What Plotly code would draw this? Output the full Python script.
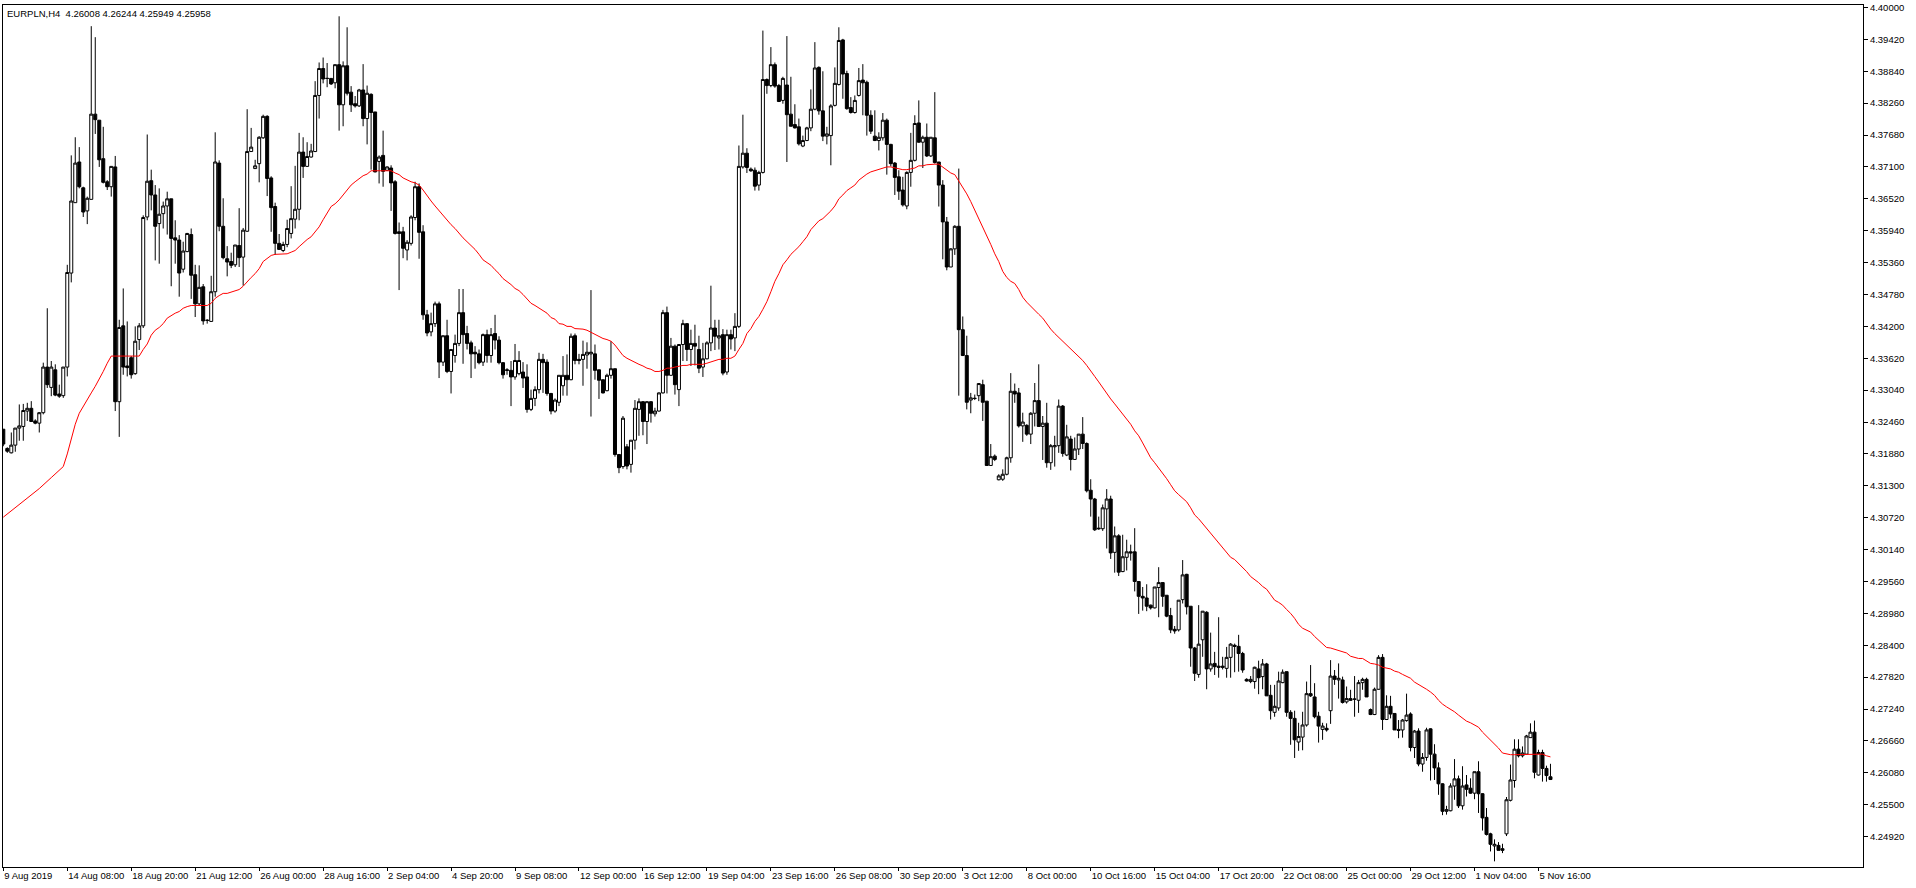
import plotly.graph_objects as go

# ---------------- data (EURPLN, H4) ----------------
open_ = [
    4.3233, 4.3198, 4.3190, 4.3204, 4.3235, 4.3238, 4.3266, 4.3271, 4.3248, 4.3244,
    4.3263, 4.3346, 4.3309, 4.3341, 4.3297, 4.3294, 4.3346, 4.3517, 4.3645, 4.3719,
    4.3672, 4.3630, 4.3651, 4.3806, 4.3795, 4.3725, 4.3683, 4.3674, 4.3710, 4.3283,
    4.3421, 4.3348, 4.3363, 4.3334, 4.3396, 4.3421, 4.3619, 4.3685, 4.3659, 4.3607,
    4.3625, 4.3639, 4.3652, 4.3581, 4.3577, 4.3524, 4.3556, 4.3587, 4.3514, 4.3461,
    4.3492, 4.3431, 4.3429, 4.3483, 4.3717, 4.3602, 4.3543, 4.3538, 4.3532, 4.3567,
    4.3546, 4.3593, 4.3738, 4.3707, 4.3716, 4.3763, 4.3802, 4.3690, 4.3638, 4.3571,
    4.3558, 4.3569, 4.3589, 4.3615, 4.3633, 4.3737, 4.3711, 4.3728, 4.3738, 4.3840,
    4.3889, 4.3871, 4.3871, 4.3863, 4.3896, 4.3823, 4.3894, 4.3846, 4.3825, 4.3821,
    4.3850, 4.3798, 4.3842, 4.3810, 4.3720, 4.3731, 4.3704, 4.3708, 4.3683, 4.3592,
    4.3592, 4.3559, 4.3571, 4.3618, 4.3674, 4.3592, 4.3441, 4.3410, 4.3425, 4.3461,
    4.3355, 4.3403, 4.3338, 4.3367, 4.3389, 4.3445, 4.3407, 4.3390, 4.3373, 4.3370,
    4.3355, 4.3405, 4.3367, 4.3407, 4.3395, 4.3354, 4.3341, 4.3340, 4.3328, 4.3334,
    4.3337, 4.3328, 4.3269, 4.3289, 4.3305, 4.3360, 4.3355, 4.3298, 4.3266, 4.3282,
    4.3312, 4.3331, 4.3323, 4.3403, 4.3360, 4.3360, 4.3368, 4.3370, 4.3370, 4.3341,
    4.3323, 4.3303, 4.3331, 4.3343, 4.3187, 4.3165, 4.3201, 4.3169, 4.3213, 4.3269,
    4.3283, 4.3247, 4.3283, 4.3261, 4.3266, 4.3299, 4.3445, 4.3331, 4.3384, 4.3305,
    4.3387, 4.3425, 4.3378, 4.3389, 4.3378, 4.3346, 4.3361, 4.3390, 4.3417, 4.3399,
    4.3405, 4.3337, 4.3405, 4.3399, 4.3420, 4.3710, 4.3735, 4.3706, 4.3704, 4.3677,
    4.3700, 4.3869, 4.3858, 4.3896, 4.3858, 4.3831, 4.3859, 4.3806, 4.3787, 4.3783,
    4.3748, 4.3758, 4.3781, 4.3815, 4.3891, 4.3812, 4.3766, 4.3767, 4.3822, 4.3860,
    4.3941, 4.3880, 4.3818, 4.3809, 4.3840, 4.3868, 4.3864, 4.3804, 4.3766, 4.3758,
    4.3763, 4.3795, 4.3751, 4.3717, 4.3692, 4.3668, 4.3639, 4.3700, 4.3722, 4.3790,
    4.3755, 4.3764, 4.3730, 4.3763, 4.3719, 4.3677, 4.3610, 4.3528, 4.3561, 4.3602,
    4.3414, 4.3367, 4.3286, 4.3289, 4.3294, 4.3314, 4.3284, 4.3167, 4.3184, 4.3141,
    4.3142, 4.3151, 4.3181, 4.3302, 4.3299, 4.3239, 4.3240, 4.3224, 4.3262, 4.3285,
    4.3238, 4.3244, 4.3172, 4.3201, 4.3203, 4.3275, 4.3186, 4.3215, 4.3178, 4.3197,
    4.3224, 4.3207, 4.3122, 4.3106, 4.3053, 4.3052, 4.3088, 4.3106, 4.3009, 4.3039,
    4.2974, 4.3000, 4.3010, 4.3010, 4.2956, 4.2929, 4.2926, 4.2913, 4.2908, 4.2945,
    4.2954, 4.2931, 4.2894, 4.2869, 4.2868, 4.2923, 4.2969, 4.2911, 4.2835, 4.2787,
    4.2850, 4.2900, 4.2797, 4.2807, 4.2802, 4.2802, 4.2798, 4.2818, 4.2840, 4.2838,
    4.2825, 4.2778, 4.2774, 4.2774, 4.2797, 4.2783, 4.2806, 4.2749, 4.2718, 4.2726,
    4.2772, 4.2792, 4.2718, 4.2707, 4.2664, 4.2673, 4.2695, 4.2752, 4.2746, 4.2711,
    4.2687, 4.2689, 4.2721, 4.2784, 4.2777, 4.2777, 4.2737, 4.2743, 4.2742, 4.2740,
    4.2772, 4.2778, 4.2723, 4.2714, 4.2760, 4.2818, 4.2705, 4.2729, 4.2716, 4.2687,
    4.2686, 4.2703, 4.2715, 4.2654, 4.2684, 4.2624, 4.2636, 4.2688, 4.2642, 4.2617,
    4.2588, 4.2538, 4.2539, 4.2584, 4.2597, 4.2548, 4.2586, 4.2580, 4.2571, 4.2610,
    4.2570, 4.2527, 4.2497, 4.2475, 4.2476, 4.2470, 4.2497, 4.2558, 4.2594, 4.2651,
    4.2639, 4.2642, 4.2672, 4.2682, 4.2604, 4.2645, 4.2616, 4.26008,
]

high = [
    4.3233, 4.3200, 4.3227, 4.3235, 4.3278, 4.3279, 4.3281, 4.3284, 4.3251, 4.3264,
    4.3354, 4.3453, 4.3357, 4.3351, 4.3314, 4.3346, 4.3532, 4.3731, 4.3764, 4.3746,
    4.3674, 4.3656, 4.3966, 4.3946, 4.3795, 4.3783, 4.3686, 4.3711, 4.3730, 4.3432,
    4.3489, 4.3429, 4.3366, 4.3420, 4.3426, 4.3622, 4.3769, 4.3705, 4.3677, 4.3671,
    4.3647, 4.3665, 4.3652, 4.3613, 4.3586, 4.3574, 4.3590, 4.3598, 4.3532, 4.3531,
    4.3497, 4.3433, 4.3512, 4.3773, 4.3722, 4.3653, 4.3566, 4.3554, 4.3568, 4.3635,
    4.3599, 4.3815, 4.3781, 4.3723, 4.3766, 4.3805, 4.3804, 4.3693, 4.3645, 4.3588,
    4.3574, 4.3614, 4.3675, 4.3712, 4.3772, 4.3764, 4.3755, 4.3752, 4.3866, 4.3900,
    4.3909, 4.3899, 4.3871, 4.3896, 4.3984, 4.3902, 4.3964, 4.3857, 4.3839, 4.3852,
    4.3897, 4.3858, 4.3844, 4.3810, 4.3731, 4.3776, 4.3711, 4.3713, 4.3686, 4.3609,
    4.3601, 4.3577, 4.3622, 4.3683, 4.3680, 4.3604, 4.3450, 4.3445, 4.3465, 4.3465,
    4.3403, 4.3432, 4.3378, 4.3405, 4.3488, 4.3488, 4.3421, 4.3394, 4.3384, 4.3378,
    4.3407, 4.3414, 4.3417, 4.3441, 4.3402, 4.3355, 4.3344, 4.3357, 4.3388, 4.3375,
    4.3355, 4.3351, 4.3305, 4.3311, 4.3372, 4.3370, 4.3360, 4.3299, 4.3289, 4.3331,
    4.3366, 4.3369, 4.3407, 4.3407, 4.3370, 4.3394, 4.3391, 4.3486, 4.3387, 4.3341,
    4.3323, 4.3334, 4.3393, 4.3343, 4.3187, 4.3257, 4.3206, 4.3213, 4.3286, 4.3289,
    4.3284, 4.3284, 4.3284, 4.3272, 4.3300, 4.3450, 4.3456, 4.3399, 4.3387, 4.3387,
    4.3432, 4.3426, 4.3414, 4.3423, 4.3403, 4.3390, 4.3393, 4.3494, 4.3432, 4.3432,
    4.3415, 4.3414, 4.3414, 4.3444, 4.3749, 4.3805, 4.3744, 4.3709, 4.3709, 4.3703,
    4.3958, 4.3871, 4.3928, 4.3900, 4.3861, 4.3874, 4.3948, 4.3874, 4.3824, 4.3798,
    4.3767, 4.3783, 4.3851, 4.3937, 4.3893, 4.3884, 4.3783, 4.3824, 4.3891, 4.3964,
    4.3943, 4.3885, 4.3837, 4.3840, 4.3890, 4.3897, 4.3867, 4.3813, 4.3813, 4.3773,
    4.3808, 4.3798, 4.3752, 4.3719, 4.3704, 4.3692, 4.3702, 4.3772, 4.3804, 4.3831,
    4.3767, 4.3789, 4.3764, 4.3846, 4.3719, 4.3686, 4.3619, 4.3562, 4.3604, 4.3707,
    4.3438, 4.3403, 4.3299, 4.3296, 4.3317, 4.3323, 4.3284, 4.3206, 4.3187, 4.3151,
    4.3160, 4.3183, 4.3335, 4.3316, 4.3308, 4.3263, 4.3242, 4.3264, 4.3317, 4.3351,
    4.3257, 4.3281, 4.3206, 4.3221, 4.3287, 4.3277, 4.3241, 4.3221, 4.3218, 4.3224,
    4.3255, 4.3209, 4.3142, 4.3108, 4.3074, 4.3096, 4.3124, 4.3112, 4.3056, 4.3042,
    4.3041, 4.3032, 4.3023, 4.3053, 4.2956, 4.2946, 4.2951, 4.2914, 4.2946, 4.2982,
    4.2954, 4.2931, 4.2908, 4.2875, 4.2922, 4.2995, 4.2970, 4.2911, 4.2837, 4.2913,
    4.2902, 4.2902, 4.2863, 4.2828, 4.2891, 4.2819, 4.2837, 4.2844, 4.2843, 4.2859,
    4.2828, 4.2780, 4.2784, 4.2801, 4.2812, 4.2815, 4.2808, 4.2768, 4.2768, 4.2792,
    4.2796, 4.2792, 4.2722, 4.2721, 4.2699, 4.2719, 4.2774, 4.2804, 4.2771, 4.2719,
    4.2699, 4.2698, 4.2813, 4.2795, 4.2807, 4.2783, 4.2765, 4.2759, 4.2784, 4.2777,
    4.2781, 4.2781, 4.2725, 4.2763, 4.2822, 4.2824, 4.2749, 4.2748, 4.2716, 4.2704,
    4.2706, 4.2752, 4.2718, 4.2686, 4.2689, 4.2644, 4.2690, 4.2689, 4.2660, 4.2627,
    4.2589, 4.2548, 4.2589, 4.2633, 4.2603, 4.2620, 4.2604, 4.2598, 4.2610, 4.2629,
    4.2571, 4.2544, 4.2499, 4.2487, 4.2482, 4.2479, 4.2564, 4.2623, 4.2669, 4.2669,
    4.2656, 4.2677, 4.2698, 4.2703, 4.2650, 4.2650, 4.2621, 4.26244,
]

low = [
    4.3202, 4.3190, 4.3189, 4.3192, 4.3212, 4.3212, 4.3248, 4.3247, 4.3242, 4.3227,
    4.3260, 4.3308, 4.3293, 4.3293, 4.3290, 4.3290, 4.3329, 4.3500, 4.3645, 4.3671,
    4.3619, 4.3606, 4.3651, 4.3770, 4.3710, 4.3680, 4.3668, 4.3656, 4.3266, 4.3219,
    4.3332, 4.3329, 4.3325, 4.3332, 4.3377, 4.3417, 4.3613, 4.3631, 4.3540, 4.3534,
    4.3598, 4.3587, 4.3493, 4.3534, 4.3474, 4.3518, 4.3555, 4.3470, 4.3437, 4.3459,
    4.3423, 4.3425, 4.3429, 4.3474, 4.3593, 4.3542, 4.3511, 4.3526, 4.3528, 4.3528,
    4.3494, 4.3592, 4.3738, 4.3707, 4.3682, 4.3761, 4.3657, 4.3592, 4.3550, 4.3559,
    4.3555, 4.3564, 4.3580, 4.3598, 4.3613, 4.3690, 4.3710, 4.3727, 4.3737, 4.3798,
    4.3862, 4.3855, 4.3859, 4.3853, 4.3776, 4.3784, 4.3840, 4.3810, 4.3818, 4.3819,
    4.3784, 4.3751, 4.3705, 4.3700, 4.3680, 4.3674, 4.3703, 4.3630, 4.3587, 4.3486,
    4.3544, 4.3540, 4.3567, 4.3613, 4.3543, 4.3432, 4.3402, 4.3402, 4.3419, 4.3326,
    4.3348, 4.3335, 4.3298, 4.3354, 4.3384, 4.3352, 4.3378, 4.3326, 4.3343, 4.3351,
    4.3348, 4.3354, 4.3354, 4.3378, 4.3351, 4.3325, 4.3332, 4.3275, 4.3323, 4.3331,
    4.3308, 4.3263, 4.3266, 4.3275, 4.3298, 4.3299, 4.3294, 4.3260, 4.3263, 4.3275,
    4.3294, 4.3294, 4.3322, 4.3351, 4.3351, 4.3312, 4.3343, 4.3256, 4.3323, 4.3288,
    4.3298, 4.3302, 4.3325, 4.3183, 4.3153, 4.3161, 4.3160, 4.3154, 4.3196, 4.3221,
    4.3222, 4.3206, 4.3245, 4.3256, 4.3265, 4.3298, 4.3298, 4.3331, 4.3296, 4.3275,
    4.3357, 4.3357, 4.3348, 4.3349, 4.3335, 4.3328, 4.3360, 4.3375, 4.3377, 4.3378,
    4.3331, 4.3332, 4.3378, 4.3375, 4.3417, 4.3707, 4.3699, 4.3701, 4.3667, 4.3667,
    4.3698, 4.3843, 4.3855, 4.3854, 4.3828, 4.3825, 4.3719, 4.3784, 4.3780, 4.3749,
    4.3746, 4.3757, 4.3775, 4.3813, 4.3805, 4.3757, 4.3751, 4.3713, 4.3820, 4.3858,
    4.3834, 4.3814, 4.3807, 4.3807, 4.3838, 4.3804, 4.3767, 4.3770, 4.3757, 4.3740,
    4.3758, 4.3696, 4.3711, 4.3659, 4.3650, 4.3638, 4.3633, 4.3674, 4.3720, 4.3754,
    4.3708, 4.3728, 4.3728, 4.3716, 4.3638, 4.3542, 4.3522, 4.3528, 4.3550, 4.3294,
    4.3366, 4.3269, 4.3262, 4.3286, 4.3284, 4.3248, 4.3167, 4.3166, 4.3175, 4.3140,
    4.3139, 4.3149, 4.3172, 4.3281, 4.3236, 4.3210, 4.3221, 4.3206, 4.3238, 4.3238,
    4.3177, 4.3163, 4.3159, 4.3165, 4.3190, 4.3183, 4.3184, 4.3158, 4.3177, 4.3186,
    4.3197, 4.3118, 4.3074, 4.3048, 4.3050, 4.3048, 4.3016, 4.2997, 4.2972, 4.2966,
    4.2973, 4.2976, 4.2994, 4.2938, 4.2897, 4.2903, 4.2902, 4.2905, 4.2907, 4.2891,
    4.2910, 4.2891, 4.2862, 4.2861, 4.2865, 4.2916, 4.2896, 4.2801, 4.2775, 4.2781,
    4.2819, 4.2760, 4.2792, 4.2786, 4.2781, 4.2796, 4.2781, 4.2781, 4.2791, 4.2792,
    4.2790, 4.2774, 4.2771, 4.2761, 4.2751, 4.2760, 4.2748, 4.2705, 4.2710, 4.2721,
    4.2771, 4.2710, 4.2659, 4.2635, 4.2648, 4.2649, 4.2692, 4.2746, 4.2707, 4.2663,
    4.2668, 4.2683, 4.2697, 4.2768, 4.2743, 4.2734, 4.2734, 4.2739, 4.2710, 4.2717,
    4.2759, 4.2746, 4.2713, 4.2713, 4.2759, 4.2686, 4.2704, 4.2707, 4.2686, 4.2671,
    4.2672, 4.2701, 4.2647, 4.2635, 4.2620, 4.2610, 4.2630, 4.2594, 4.2595, 4.2568,
    4.2531, 4.2532, 4.2538, 4.2559, 4.2544, 4.2541, 4.2565, 4.2570, 4.2560, 4.2535,
    4.2503, 4.2494, 4.2465, 4.2447, 4.2467, 4.2462, 4.2493, 4.2556, 4.2581, 4.2636,
    4.2636, 4.2641, 4.2672, 4.2598, 4.2603, 4.2592, 4.2592, 4.25949,
]

close = [
    4.3206, 4.3193, 4.3204, 4.3235, 4.3239, 4.3267, 4.3271, 4.3247, 4.3244, 4.3263,
    4.3346, 4.3314, 4.3346, 4.3295, 4.3293, 4.3346, 4.3518, 4.3648, 4.3717, 4.3674,
    4.3628, 4.3653, 4.3806, 4.3796, 4.3723, 4.3682, 4.3674, 4.3711, 4.3283, 4.3418,
    4.3346, 4.3345, 4.3332, 4.3393, 4.3421, 4.3618, 4.3684, 4.3659, 4.3602, 4.3624,
    4.3639, 4.3652, 4.3580, 4.3577, 4.3517, 4.3557, 4.3589, 4.3513, 4.3461, 4.3491,
    4.3430, 4.3431, 4.3483, 4.3719, 4.3602, 4.3545, 4.3537, 4.3531, 4.3568, 4.3545,
    4.3595, 4.3738, 4.3746, 4.3712, 4.3764, 4.3802, 4.3689, 4.3636, 4.3571, 4.3560,
    4.3569, 4.3598, 4.3616, 4.3633, 4.3737, 4.3711, 4.3729, 4.3739, 4.3840, 4.3889,
    4.3870, 4.3871, 4.3861, 4.3896, 4.3823, 4.3894, 4.3844, 4.3823, 4.3821, 4.3850,
    4.3798, 4.3844, 4.3809, 4.3701, 4.3728, 4.3702, 4.3710, 4.3681, 4.3589, 4.3589,
    4.3562, 4.3573, 4.3619, 4.3674, 4.3591, 4.3441, 4.3408, 4.3425, 4.3461, 4.3355,
    4.3403, 4.3338, 4.3378, 4.3389, 4.3445, 4.3405, 4.3389, 4.3370, 4.3370, 4.3354,
    4.3405, 4.3367, 4.3405, 4.3395, 4.3354, 4.3332, 4.3340, 4.3328, 4.3358, 4.3358,
    4.3326, 4.3269, 4.3289, 4.3305, 4.3360, 4.3354, 4.3298, 4.3266, 4.3286, 4.3331,
    4.3331, 4.3323, 4.3402, 4.3358, 4.3358, 4.3369, 4.3373, 4.3373, 4.3340, 4.3322,
    4.3299, 4.3331, 4.3343, 4.3187, 4.3163, 4.3253, 4.3166, 4.3213, 4.3271, 4.3283,
    4.3247, 4.3283, 4.3262, 4.3266, 4.3299, 4.3445, 4.3331, 4.3384, 4.3314, 4.3387,
    4.3425, 4.3378, 4.3389, 4.3384, 4.3344, 4.3361, 4.3390, 4.3417, 4.3402, 4.3403,
    4.3335, 4.3405, 4.3397, 4.3420, 4.3711, 4.3735, 4.3709, 4.3703, 4.3675, 4.3700,
    4.3869, 4.3858, 4.3896, 4.3857, 4.3829, 4.3871, 4.3805, 4.3784, 4.3781, 4.3752,
    4.3758, 4.3781, 4.3815, 4.3890, 4.3812, 4.3766, 4.3770, 4.3821, 4.3862, 4.3940,
    4.3879, 4.3816, 4.3809, 4.3831, 4.3867, 4.3863, 4.3804, 4.3775, 4.3758, 4.3764,
    4.3795, 4.3751, 4.3716, 4.3691, 4.3666, 4.3641, 4.3700, 4.3722, 4.3789, 4.3755,
    4.3764, 4.3730, 4.3764, 4.3718, 4.3677, 4.3610, 4.3528, 4.3561, 4.3602, 4.3414,
    4.3367, 4.3282, 4.3290, 4.3289, 4.3316, 4.3282, 4.3167, 4.3183, 4.3178, 4.3148,
    4.3151, 4.3181, 4.3302, 4.3297, 4.3239, 4.3246, 4.3224, 4.3262, 4.3285, 4.3238,
    4.3244, 4.3172, 4.3203, 4.3203, 4.3275, 4.3189, 4.3219, 4.3178, 4.3197, 4.3224,
    4.3207, 4.3121, 4.3106, 4.3050, 4.3052, 4.3090, 4.3106, 4.3008, 4.3039, 4.2973,
    4.3001, 4.3010, 4.3008, 4.2956, 4.2929, 4.2926, 4.2911, 4.2908, 4.2946, 4.2954,
    4.2929, 4.2893, 4.2868, 4.2866, 4.2922, 4.2968, 4.2910, 4.2835, 4.2789, 4.2842,
    4.2902, 4.2797, 4.2806, 4.2801, 4.2800, 4.2800, 4.2818, 4.2842, 4.2838, 4.2825,
    4.2795, 4.2775, 4.2778, 4.2800, 4.2781, 4.2806, 4.2748, 4.2721, 4.2729, 4.2775,
    4.2791, 4.2718, 4.2707, 4.2668, 4.2674, 4.2695, 4.2752, 4.2748, 4.2710, 4.2693,
    4.2693, 4.2686, 4.2784, 4.2778, 4.2780, 4.2736, 4.2743, 4.2740, 4.2742, 4.2772,
    4.2778, 4.2746, 4.2714, 4.2760, 4.2818, 4.2705, 4.2729, 4.2715, 4.2686, 4.2685,
    4.2704, 4.2713, 4.2654, 4.2684, 4.2624, 4.2636, 4.2686, 4.2642, 4.2617, 4.2588,
    4.2538, 4.2541, 4.2584, 4.2597, 4.2548, 4.2584, 4.2578, 4.2571, 4.2610, 4.2570,
    4.2526, 4.2496, 4.2478, 4.2478, 4.2467, 4.2467, 4.2559, 4.2595, 4.2651, 4.2639,
    4.2644, 4.2675, 4.2682, 4.2609, 4.2645, 4.2616, 4.2603, 4.25958,
]

# moving average (red line), read per bar
ma_bar_start = [0, 5, 9, 12, 15, 16, 17, 18, 19, 20, 21, 22, 23, 24, 25, 26, 27, 31, 34, 35, 36]
ma_value_start = [4.3073, 4.3102, 4.3125, 4.3145, 4.3165, 4.3188, 4.3215, 4.3242, 4.3262, 4.3275,
                  4.3286, 4.3299, 4.3311, 4.3324, 4.3338, 4.3353, 4.3366, 4.3366, 4.3366, 4.3378,
                  4.3388]
ma_value_rest = [  # bars 37 .. 387
    4.3404, 4.3413, 4.3418, 4.3425, 4.3435, 4.3440, 4.3444, 4.3447, 4.3453, 4.3456,
    4.3458, 4.3458, 4.3458, 4.3458, 4.3458, 4.3462, 4.3471, 4.3476, 4.3480, 4.3480,
    4.3482, 4.3485, 4.3487, 4.3493, 4.3502, 4.3509, 4.3516, 4.3525, 4.3538, 4.3543,
    4.3549, 4.3551, 4.3551, 4.3551, 4.3552, 4.3555, 4.3558, 4.3565, 4.3572, 4.3578,
    4.3583, 4.3592, 4.3601, 4.3614, 4.3627, 4.3638, 4.3643, 4.3650, 4.3659, 4.3668,
    4.3677, 4.3683, 4.3688, 4.3694, 4.3697, 4.3703, 4.3703, 4.3703, 4.3703, 4.3703,
    4.3703, 4.3699, 4.3696, 4.3690, 4.3686, 4.3683, 4.3681, 4.3677, 4.3668, 4.3657,
    4.3648, 4.3639, 4.3630, 4.3621, 4.3614, 4.3605, 4.3598, 4.3589, 4.3581, 4.3574,
    4.3567, 4.3560, 4.3551, 4.3541, 4.3536, 4.3531, 4.3523, 4.3516, 4.3507, 4.3502,
    4.3496, 4.3489, 4.3485, 4.3478, 4.3469, 4.3462, 4.3458, 4.3453, 4.3449, 4.3444,
    4.3436, 4.3433, 4.3425, 4.3424, 4.3420, 4.3420, 4.3416, 4.3416, 4.3415, 4.3413,
    4.3409, 4.3406, 4.3402, 4.3398, 4.3396, 4.3393, 4.3386, 4.3377, 4.3367, 4.3362,
    4.3358, 4.3355, 4.3351, 4.3348, 4.3344, 4.3342, 4.3338, 4.3338, 4.3340, 4.3344,
    4.3344, 4.3346, 4.3348, 4.3349, 4.3349, 4.3351, 4.3351, 4.3351, 4.3351, 4.3353,
    4.3355, 4.3358, 4.3360, 4.3360, 4.3362, 4.3362, 4.3366, 4.3378, 4.3389, 4.3407,
    4.3416, 4.3429, 4.3438, 4.3451, 4.3465, 4.3483, 4.3502, 4.3516, 4.3532, 4.3541,
    4.3551, 4.3558, 4.3565, 4.3574, 4.3583, 4.3596, 4.3605, 4.3612, 4.3616, 4.3623,
    4.3630, 4.3639, 4.3652, 4.3659, 4.3667, 4.3672, 4.3677, 4.3686, 4.3692, 4.3697,
    4.3701, 4.3703, 4.3706, 4.3708, 4.3710, 4.3710, 4.3708, 4.3706, 4.3705, 4.3705,
    4.3706, 4.3708, 4.3712, 4.3712, 4.3714, 4.3715, 4.3715, 4.3715, 4.3710, 4.3705,
    4.3699, 4.3696, 4.3685, 4.3674, 4.3661, 4.3647, 4.3632, 4.3616, 4.3601, 4.3585,
    4.3569, 4.3552, 4.3538, 4.3520, 4.3509, 4.3502, 4.3498, 4.3487, 4.3473, 4.3464,
    4.3456, 4.3449, 4.3442, 4.3435, 4.3424, 4.3415, 4.3407, 4.3400, 4.3393, 4.3386,
    4.3378, 4.3371, 4.3364, 4.3358, 4.3349, 4.3338, 4.3329, 4.3319, 4.3308, 4.3299,
    4.3288, 4.3279, 4.3270, 4.3259, 4.3250, 4.3242, 4.3230, 4.3221, 4.3208, 4.3195,
    4.3181, 4.3172, 4.3163, 4.3154, 4.3143, 4.3132, 4.3121, 4.3114, 4.3108, 4.3101,
    4.3090, 4.3077, 4.3070, 4.3061, 4.3054, 4.3043, 4.3034, 4.3025, 4.3016, 4.3007,
    4.3000, 4.2996, 4.2989, 4.2981, 4.2974, 4.2965, 4.2960, 4.2954, 4.2947, 4.2942,
    4.2932, 4.2922, 4.2918, 4.2913, 4.2905, 4.2898, 4.2889, 4.2878, 4.2871, 4.2867,
    4.2864, 4.2856, 4.2849, 4.2842, 4.2836, 4.2835, 4.2833, 4.2831, 4.2829, 4.2826,
    4.2820, 4.2818, 4.2816, 4.2816, 4.2811, 4.2807, 4.2806, 4.2804, 4.2800, 4.2798,
    4.2797, 4.2793, 4.2791, 4.2787, 4.2784, 4.2780, 4.2773, 4.2769, 4.2764, 4.2760,
    4.2755, 4.2749, 4.2740, 4.2733, 4.2728, 4.2724, 4.2719, 4.2713, 4.2708, 4.2702,
    4.2699, 4.2695, 4.2691, 4.2682, 4.2675, 4.2668, 4.2661, 4.2653, 4.2644, 4.2642,
    4.2641, 4.2641, 4.2641, 4.2642, 4.2642, 4.2642, 4.2642, 4.2642, 4.2642, 4.2639,
    4.2637,
]

time_tick_bars = [0, 16, 32, 48, 64, 80, 96, 112, 128, 144, 160, 176, 192,
                  208, 224, 240, 256, 272, 288, 304, 320, 336, 352, 368, 384]
time_tick_labels = ["9 Aug 2019", "14 Aug 08:00", "18 Aug 20:00", "21 Aug 12:00",
                    "26 Aug 00:00", "28 Aug 16:00", "2 Sep 04:00", "4 Sep 20:00",
                    "9 Sep 08:00", "12 Sep 00:00", "16 Sep 12:00", "19 Sep 04:00",
                    "23 Sep 16:00", "26 Sep 08:00", "30 Sep 20:00", "3 Oct 12:00",
                    "8 Oct 00:00", "10 Oct 16:00", "15 Oct 04:00", "17 Oct 20:00",
                    "22 Oct 08:00", "25 Oct 00:00", "29 Oct 12:00", "1 Nov 04:00",
                    "5 Nov 16:00"]
price_ticks = [4.24920, 4.25500, 4.26080, 4.26660, 4.27240, 4.27820, 4.28400, 4.28980,
               4.29560, 4.30140, 4.30720, 4.31300, 4.31880, 4.32460, 4.33040, 4.33620,
               4.34200, 4.34780, 4.35360, 4.35940, 4.36520, 4.37100, 4.37680, 4.38260,
               4.38840, 4.39420, 4.40000]
price_labels = ["%.5f" % p for p in price_ticks]

title_text = "EURPLN,H4\u00a0 4.26008 4.26244 4.25949 4.25958"

# ---------------- figure ----------------
bars = list(range(len(open_)))
ma_bar = ma_bar_start + list(range(37, 37 + len(ma_value_rest)))
ma_value = ma_value_start + ma_value_rest

FONT = "Liberation Sans, Arial, sans-serif"

fig = go.Figure()
fig.add_trace(go.Candlestick(
    x=bars, open=open_, high=high, low=low, close=close,
    increasing=dict(line=dict(color="#000000", width=1), fillcolor="#FFFFFF"),
    decreasing=dict(line=dict(color="#000000", width=1), fillcolor="#000000"),
    whiskerwidth=0, showlegend=False, hoverinfo="skip",
))
fig.add_trace(go.Scatter(
    x=ma_bar, y=ma_value, mode="lines",
    line=dict(color="#FF0000", width=1),
    showlegend=False, hoverinfo="skip",
))

fig.update_layout(
    width=1916, height=888,
    margin=dict(l=2, r=53, t=2, b=21, pad=0),
    paper_bgcolor="#FFFFFF", plot_bgcolor="#FFFFFF",
    boxgap=0.25, boxgroupgap=0,
    font=dict(family=FONT, size=9.5, color="#000000"),
    xaxis=dict(
        range=[-0.075, 465.175], rangeslider=dict(visible=False),
        showgrid=False, zeroline=False,
        showline=True, mirror=True, linecolor="#000000", linewidth=1,
        tickmode="array", tickvals=time_tick_bars, ticktext=time_tick_labels,
        ticks="outside", ticklen=3, tickwidth=1, tickcolor="#000000",
        ticklabelposition="outside right", tickangle=0,
        ticklabeloverflow="allow",
        tickfont=dict(family=FONT, size=9.5, color="#000000"),
        fixedrange=True,
    ),
    yaxis=dict(
        range=[4.243671, 4.400453], side="right",
        showgrid=False, zeroline=False,
        showline=True, mirror=True, linecolor="#000000", linewidth=1,
        tickmode="array", tickvals=price_ticks, ticktext=price_labels,
        ticks="outside", ticklen=4, tickwidth=1, tickcolor="#000000",
        ticklabeloverflow="allow",
        tickfont=dict(family=FONT, size=9.5, color="#000000"),
        fixedrange=True,
    ),
    annotations=[dict(
        text=title_text, xref="paper", yref="paper", x=0, y=1,
        xanchor="left", yanchor="top", showarrow=False,
        xshift=2, yshift=-1,
        font=dict(family=FONT, size=9.5, color="#000000"),
    )],
)

fig.write_html(
    "out.html",
    config={"displayModeBar": False},
    post_script="document.body.style.margin='0';document.body.style.overflow='hidden';",
)
